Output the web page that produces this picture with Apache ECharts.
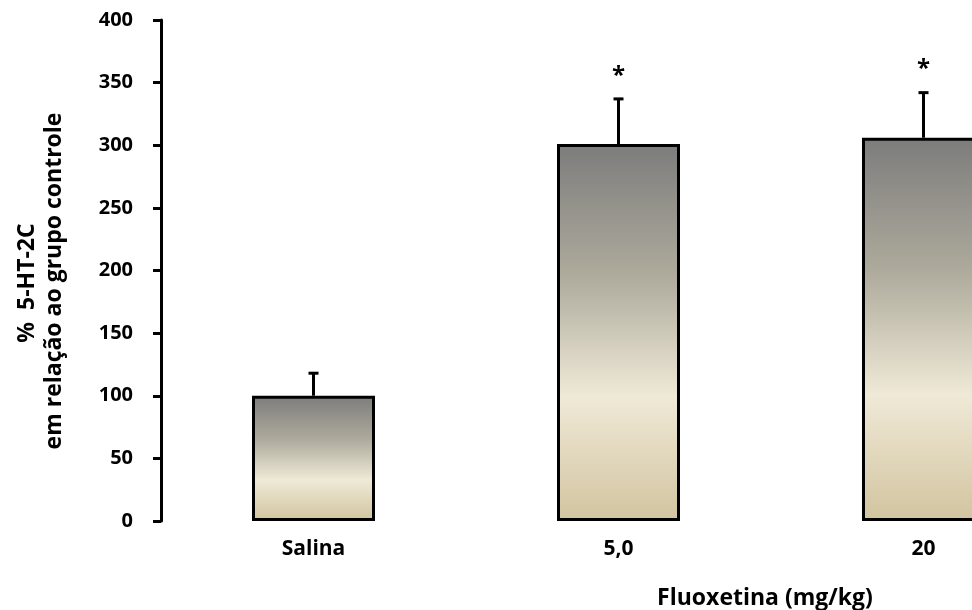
<!DOCTYPE html>
<html>
<head>
<meta charset="utf-8">
<script src="https://cdn.jsdelivr.net/npm/echarts@6/dist/echarts.min.js"></script>
<style>
  html, body { margin: 0; padding: 0; background: #ffffff; }
  #chart { width: 972px; height: 610px; }
</style>
</head>
<body>
<div id="chart"></div>
<script>
// Groups and measured receptor levels (% of control), with standard errors
const categories = ['Salina', '5,0', '20'];
const means = [100, 301, 306];
const sems = [18, 36, 36];
const significance = ['', '*', '*'];

// Value axis range
const yMin = 0;
const yMax = 400;
const yStep = 50;

const FONT = '"Open Sans", "DejaVu Sans", sans-serif';

const chart = echarts.init(document.getElementById('chart'), null, { renderer: 'canvas' });

const barFill = new echarts.graphic.LinearGradient(0, 0, 0, 1, [
  { offset: 0, color: '#7c7c7c' },
  { offset: 0.35, color: '#aeab9c' },
  { offset: 0.67, color: '#efe9d7' },
  { offset: 1, color: '#d2c49f' }
]);

const errorData = categories.map((c, i) => [i, means[i], sems[i]]);

const option = {
  backgroundColor: '#ffffff',
  animation: false,
  grid: {
    left: 161,
    top: 20,
    bottom: 89,
    right: -104,
    outerBoundsMode: 'none',
    containLabel: false
  },
  xAxis: {
    type: 'category',
    data: categories,
    axisLine: { show: false },
    axisTick: { show: false },
    axisLabel: {
      margin: 18,
      color: '#000',
      fontFamily: FONT,
      fontWeight: 'bold',
      fontSize: 21
    }
  },
  yAxis: {
    type: 'value',
    min: yMin,
    max: yMax,
    interval: yStep,
    splitLine: { show: false },
    axisLine: { show: true, lineStyle: { color: '#000', width: 3 } },
    axisTick: { show: true, length: 8, lineStyle: { color: '#000', width: 3 } },
    axisLabel: {
      margin: 28,
      color: '#000',
      fontFamily: FONT,
      fontWeight: 'bold',
      fontSize: 20
    }
  },
  series: [
    {
      type: 'bar',
      data: means,
      barWidth: 123,
      itemStyle: {
        color: barFill,
        borderColor: '#000',
        borderWidth: 3
      }
    },
    {
      type: 'custom',
      data: errorData,
      clip: false,
      z: 5,
      renderItem: function (params, api) {
        const idx = api.value(0);
        const base = api.coord([idx, api.value(1)]);
        const tip = api.coord([idx, api.value(1) + api.value(2)]);
        const children = [
          { type: 'line', shape: { x1: base[0], y1: base[1], x2: tip[0], y2: tip[1] },
            style: { stroke: '#000', lineWidth: 3 } },
          { type: 'line', shape: { x1: tip[0] - 5, y1: tip[1], x2: tip[0] + 5, y2: tip[1] },
            style: { stroke: '#000', lineWidth: 3 } }
        ];
        const mark = significance[params.dataIndex];
        if (mark) {
          children.push({
            type: 'text',
            style: {
              text: mark, x: tip[0], y: tip[1] - 23,
              align: 'center', verticalAlign: 'middle',
              font: 'bold 24px ' + FONT, fill: '#000'
            }
          });
        }
        return { type: 'group', children: children };
      }
    }
  ],
  graphic: [
    {
      type: 'text', x: 27, y: 283, rotation: Math.PI / 2,
      style: { text: '%  5-HT-2C', align: 'center', verticalAlign: 'middle',
               font: 'bold 23px ' + FONT, fill: '#000' }
    },
    {
      type: 'text', x: 54, y: 281, rotation: Math.PI / 2,
      style: { text: 'em relação ao grupo controle', align: 'center', verticalAlign: 'middle',
               font: 'bold 23px ' + FONT, fill: '#000' }
    },
    {
      type: 'text', x: 765, y: 598,
      style: { text: 'Fluoxetina (mg/kg)', align: 'center', verticalAlign: 'middle',
               font: 'bold 23px ' + FONT, fill: '#000' }
    }
  ]
};

chart.setOption(option);
</script>
</body>
</html>
